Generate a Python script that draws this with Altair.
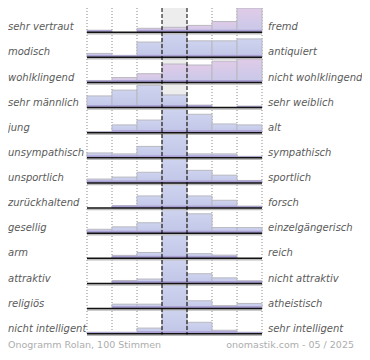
import altair as alt
import pandas as pd

left_labels = ["sehr vertraut", "modisch", "wohlklingend", "sehr männlich", "\u00a0jung",
               "unsympathisch", "unsportlich", "zurückhaltend", "gesellig", "arm",
               "attraktiv", "religiös", "nicht intelligent"]
right_labels = ["fremd", "antiquiert", "nicht wohlklingend", "sehr weiblich", "alt",
                "sympathisch", "sportlich", "forsch", "einzelgängerisch", "reich",
                "nicht attraktiv", "atheistisch", "sehr intelligent"]
# relative bar heights (percent of the row maximum), 7 steps per scale
values = [
    [8, 0, 16, 20, 28, 44, 100],
    [16, 8, 63, 100, 68, 68, 76],
    [8, 20, 36, 76, 72, 88, 100],
    [48, 72, 92, 52, 10, 0, 6],
    [4, 32, 52, 100, 76, 36, 32],
    [20, 16, 47, 100, 16, 16, 6],
    [16, 24, 44, 100, 52, 32, 10],
    [0, 10, 50, 100, 50, 32, 8],
    [16, 26, 43, 100, 80, 23, 23],
    [0, 12, 24, 100, 19, 13, 0],
    [0, 12, 18, 100, 40, 23, 11],
    [0, 18, 18, 100, 32, 12, 21],
    [6, 6, 23, 100, 47, 14, 6],
]
pink_rows = [0, 2]
footer_left = "Onogramm Rolan, 100 Stimmen"
footer_right = "onomastik.com - 05 / 2025"

# layout constants (y in row units)
ROW, TOP, FULL, BAND = 26, 25, 25, 2.5
n = len(values)
last_base = TOP + ROW * (n - 1)

recs = []
for i, vals in enumerate(values):
    base = TOP + ROW * i
    for c, v in enumerate(vals):
        if v <= 0:
            continue
        h = v / 100 * FULL
        recs.append(dict(row=i, col=c, col2=c + 1, base=base, top=base - h,
                         band=base - min(h, BAND), pink=(i in pink_rows)))
bars = pd.DataFrame(recs)

rows_df = pd.DataFrame(dict(left=left_labels, right=right_labels,
                            base=[TOP + ROW * i for i in range(n)]))
rows_df["ty"] = rows_df["base"] - 5
rows_df["shadow"] = rows_df["base"] + 1.6
rows_df["x0"] = 0
rows_df["x1"] = 7
rows_df["xl"] = -3.16
rows_df["xr"] = 7.24

X = alt.Scale(domain=[0, 7], range=[79, 254], nice=False, zero=False)
Y = alt.Scale(domain=[0, 356], range=[0, 344], nice=False, zero=False)

bg = alt.Chart(pd.DataFrame(dict(a=[3], b=[4], y0=[0], y1=[last_base]))).mark_rect(
    color="#ededed").encode(
    x=alt.X("a:Q", scale=X, axis=None), x2="b:Q",
    y=alt.Y("y0:Q", scale=Y, axis=None), y2="y1:Q")

vl = pd.DataFrame(dict(x=[0, 1, 2, 5, 6, 7], y0=0, y1=last_base + 1))
dotted = alt.Chart(vl).mark_rule(color="#888", strokeDash=[1, 2], strokeWidth=1).encode(
    x=alt.X("x:Q", scale=X, axis=None), y=alt.Y("y0:Q", scale=Y, axis=None), y2="y1:Q")

vd = pd.DataFrame(dict(x=[3, 4], y0=0, y1=last_base + 1))
dashed = alt.Chart(vd).mark_rule(color="#000", strokeDash=[4, 2], strokeWidth=1).encode(
    x=alt.X("x:Q", scale=X, axis=None), y=alt.Y("y0:Q", scale=Y, axis=None), y2="y1:Q")

blue_grad = alt.Gradient(gradient="linear", x1=0, x2=0, y1=0, y2=1,
                         stops=[alt.GradientStop(color="#ced3ef", offset=0),
                                alt.GradientStop(color="#c1c6e8", offset=1)])
pink_grad = alt.Gradient(gradient="linear", x1=0, x2=0, y1=0, y2=1,
                         stops=[alt.GradientStop(color="#e0cbe8", offset=0),
                                alt.GradientStop(color="#c8c8e9", offset=1)])

enc = dict(x=alt.X("col:Q", scale=X, axis=None), x2="col2:Q",
           y=alt.Y("top:Q", scale=Y, axis=None), y2="base:Q")
bars_blue = alt.Chart(bars).transform_filter("!datum.pink").mark_rect(
    color=blue_grad, stroke="#b8b8c0", strokeWidth=1).encode(**enc)
bars_pink = alt.Chart(bars).transform_filter("datum.pink").mark_rect(
    color=pink_grad, stroke="#b8b8c0", strokeWidth=1).encode(**enc)
band = alt.Chart(bars).mark_rect(color="#ab a0d3".replace(" ", "")).encode(
    x=alt.X("col:Q", scale=X, axis=None), x2="col2:Q",
    y=alt.Y("band:Q", scale=Y, axis=None), y2="base:Q")

base_line = alt.Chart(rows_df).mark_rule(color="#111", strokeWidth=1.5).encode(
    x=alt.X("x0:Q", scale=X, axis=None), x2="x1:Q", y=alt.Y("base:Q", scale=Y, axis=None))
shadow_line = alt.Chart(rows_df).mark_rule(color="#bbb", strokeWidth=1.5).encode(
    x=alt.X("x0:Q", scale=X, axis=None), x2="x1:Q", y=alt.Y("shadow:Q", scale=Y, axis=None))

txt = dict(baseline="middle", font="DejaVu Sans", fontStyle="italic", fontSize=10, color="#5a5a5a")
left_t = alt.Chart(rows_df).mark_text(align="left", **txt).encode(
    x=alt.X("xl:Q", scale=X, axis=None), y=alt.Y("ty:Q", scale=Y, axis=None), text="left:N")
right_t = alt.Chart(rows_df).mark_text(align="left", **txt).encode(
    x=alt.X("xr:Q", scale=X, axis=None), y=alt.Y("ty:Q", scale=Y, axis=None), text="right:N")

foot = pd.DataFrame(dict(t=[footer_left, footer_right], x=[-3.16, 10.68], y=[349, 349]))
foot_l = alt.Chart(foot.iloc[[0]]).mark_text(align="left", baseline="middle", font="DejaVu Sans",
                                             fontSize=9.5, color="#adadad").encode(
    x=alt.X("x:Q", scale=X, axis=None), y=alt.Y("y:Q", scale=Y, axis=None), text="t:N")
foot_r = alt.Chart(foot.iloc[[1]]).mark_text(align="right", baseline="middle", font="DejaVu Sans",
                                             fontSize=9.5, color="#adadad").encode(
    x=alt.X("x:Q", scale=X, axis=None), y=alt.Y("y:Q", scale=Y, axis=None), text="t:N")

chart = alt.layer(bg, dotted, bars_blue, bars_pink, band, shadow_line, base_line, dashed,
                  left_t, right_t, foot_l, foot_r).properties(
    width=354, height=344, padding=0, autosize="none", background="white"
).configure_view(stroke=None)

chart.save("out.html", embed_options={"renderer": "svg", "actions": False})
